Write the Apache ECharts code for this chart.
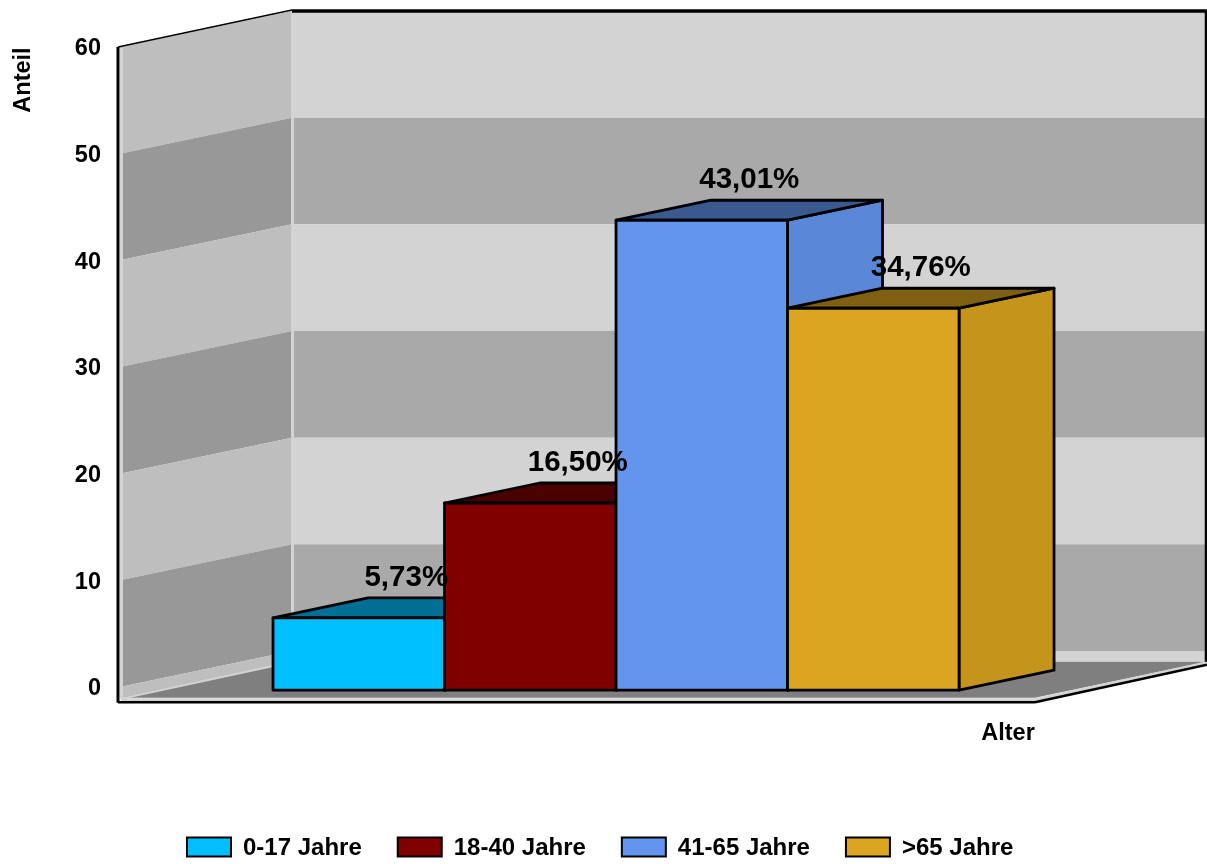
<!DOCTYPE html>
<html><head><meta charset="utf-8">
<style>html,body{margin:0;padding:0;background:#fff}#c{width:1207px;height:864px}</style>
<script src="https://cdn.jsdelivr.net/npm/echarts@6/dist/echarts.min.js"></script>
</head><body><div id="c"></div>
<script>
const ageGroups = ['0-17 Jahre','18-40 Jahre','41-65 Jahre','>65 Jahre'];
const shares = [5.73,16.50,43.01,34.76];
const barColors = ['#00BFFF','#800000','#6495ED','#DAA520'];
const topColors = ['#006F96','#4A0000','#3A5A8F','#7F6012'];
const sideColors = ['#00ABE5','#730000','#5A88D6','#C4951A'];
const yTicks = [0,10,20,30,40,50,60];
const wallBands = [[60,50,0],[50,40,1],[40,30,0],[30,20,1],[20,10,0],[10,0,1],[0,-1,0]];
const axisTitleY = 'Anteil';
const axisTitleX = 'Alter';

const FONT = '"Liberation Sans", Arial, sans-serif';
const xMin = -0.904, xMax = 4.443;
const floorV = -1;
const wallDX = 172, wallDY = 36;
const barDX = 95, barDY = 20, barLift = 8;

function poly(points, fill, stroke, lw){
  return {type:'polygon', shape:{points}, style:{fill, stroke: stroke||null, lineWidth: lw||0, lineJoin:'round'}};
}
function line(a,b,stroke,lw){
  return {type:'line', shape:{x1:a[0],y1:a[1],x2:b[0],y2:b[1]}, style:{stroke, lineWidth:lw}};
}

function renderBands(params, api){
  const hi = api.value(0), lo = api.value(1), dark = api.value(2);
  const a = api.coord([xMin,hi]), b = api.coord([xMin,lo]);
  const c = api.coord([xMax,hi]);
  const L = a[0]+2;
  return {type:'group', children:[
    poly([[L+wallDX,a[1]-wallDY],[c[0]+wallDX,c[1]-wallDY],[c[0]+wallDX,b[1]-wallDY],[L+wallDX,b[1]-wallDY]], dark? '#A9A9A9':'#D3D3D3'),
    poly([[L,a[1]],[L+wallDX,a[1]-wallDY],[L+wallDX,b[1]-wallDY],[L,b[1]]], dark? '#989898':'#BEBEBE')
  ]};
}

function renderFrame(params, api){
  const tl = api.coord([xMin,60]), bl = api.coord([xMin,floorV]), br = api.coord([xMax,floorV]);
  const L = tl[0], T = tl[1], B = bl[1], R = br[0];
  return {type:'group', children:[
    poly([[L+2,B],[R,B],[R+wallDX,B-wallDY],[L+2+wallDX,B-wallDY]], '#7F7F7F'),
    line([L+3.5,T+1],[L+3.5,B+1],'#D3D3D3',3),
    line([L+wallDX+2.5,T-wallDY],[L+wallDX+2.5,B-wallDY],'#D3D3D3',3),
    line([L+3,B+2],[R,B+2],'#D3D3D3',3),
    line([R,B+2],[R+wallDX,B-wallDY+1],'#D3D3D3',3),
    line([L+3,B+1],[L+wallDX+3,B-wallDY],'#D3D3D3',2),
    line([L,T],[L,B+5],'#000',3),
    line([L,B+4.5],[R,B+4.5],'#000',2.5),
    line([R,B+4.5],[R+wallDX,B-wallDY+3],'#000',2.5),
    line([L,T],[L+wallDX+2,T-wallDY-1],'#000',1.5),
    line([L+wallDX+2,T-wallDY],[R+wallDX,T-wallDY],'#000',3.5),
    line([R+wallDX-1,T-wallDY],[R+wallDX-1,B-wallDY],'#000',2.5)
  ]};
}

function renderBar(i){
  return function(params, api){
    const x = api.value(0), v = api.value(1);
    const p0 = api.coord([x,v]), p1 = api.coord([x+1,v]), b = api.coord([x,floorV]);
    const l = p0[0], r = p1[0], t = p0[1]-barLift, bot = b[1]-barLift+0.5;
    const sc = '#000', lw = 2.8;
    return {type:'group', children:[
      poly([[r,t],[r+barDX,t-barDY],[r+barDX,bot-barDY],[r,bot]], sideColors[i], sc, lw),
      poly([[l,t],[l+barDX,t-barDY],[r+barDX,t-barDY],[r,t]], topColors[i], sc, lw),
      poly([[l,t],[r,t],[r,bot],[l,bot]], barColors[i], sc, lw)
    ]};
  };
}

function renderLabel(params, api){
  const x = api.value(0), v = api.value(1);
  const p0 = api.coord([x,v]), p1 = api.coord([x+1,v]);
  return {type:'text', style:{
    text: v.toFixed(2).replace('.',',')+'%',
    x:(p0[0]+p1[0])/2+barDX/2, y:p0[1]-barLift-barDY-20,
    textAlign:'center', textVerticalAlign:'middle',
    font:'bold 29.5px '+FONT, fill:'#000'
  }};
}

const barSeries = ageGroups.map((name,i)=>({
  type:'custom', name, coordinateSystem:'cartesian2d', z:5+i,
  itemStyle:{color:barColors[i], borderColor:'#000', borderWidth:3},
  renderItem:renderBar(i), encode:{x:0,y:1},
  data:[[i,shares[i]]]
}));

const richText = (size, top) => ({t:{color:'#000', fontFamily:FONT, fontWeight:'bold', fontSize:size, verticalAlign:'top', padding:[top,0,0,0]}});

const chart = echarts.init(document.getElementById('c'), null, {renderer:'canvas'});
chart.setOption({
  animation:false,
  grid:{left:118, top:47, width:917, height:640, containLabel:false},
  xAxis:{type:'value', min:xMin, max:xMax, show:false},
  yAxis:{type:'value', min:0, max:60, interval:10,
    axisLine:{show:false}, axisTick:{show:false}, splitLine:{show:false},
    axisLabel:{margin:17, color:'#000', fontFamily:FONT, fontWeight:'bold', fontSize:23.5,
      formatter:v=>yTicks.includes(v)?'{t|'+v+'}':'', rich:richText(23.5,4)}},
  legend:{show:true, data:ageGroups, left:186, top:836, itemWidth:44, itemHeight:19, itemGap:35, icon:'rect',
    selectedMode:false, padding:0, formatter:n=>'{t|'+n+'}',
    textStyle:{color:'#000', fontFamily:FONT, fontWeight:'bold', fontSize:24, padding:[0,0,0,7], rich:richText(24,2)}},
  graphic:[
    {type:'text', x:24, y:80, rotation:Math.PI/2, z:20,
      style:{text:axisTitleY, font:'bold 23.5px '+FONT, fill:'#000', textAlign:'center', textVerticalAlign:'middle'}},
    {type:'text', x:1008, y:734, z:20,
      style:{text:axisTitleX, font:'bold 23.5px '+FONT, fill:'#000', textAlign:'center', textVerticalAlign:'middle'}}
  ],
  series:[
    {type:'custom', name:'walls', z:1, renderItem:renderBands, encode:{y:[0,1]}, clip:false, data:wallBands, silent:true},
    {type:'custom', name:'frame', z:2, renderItem:renderFrame, clip:false, data:[[0]], silent:true},
    ...barSeries,
    {type:'custom', name:'labels', z:15, renderItem:renderLabel, encode:{x:0,y:1}, clip:false,
      data:shares.map((v,i)=>[i,v]), silent:true}
  ]
});
</script></body></html>
